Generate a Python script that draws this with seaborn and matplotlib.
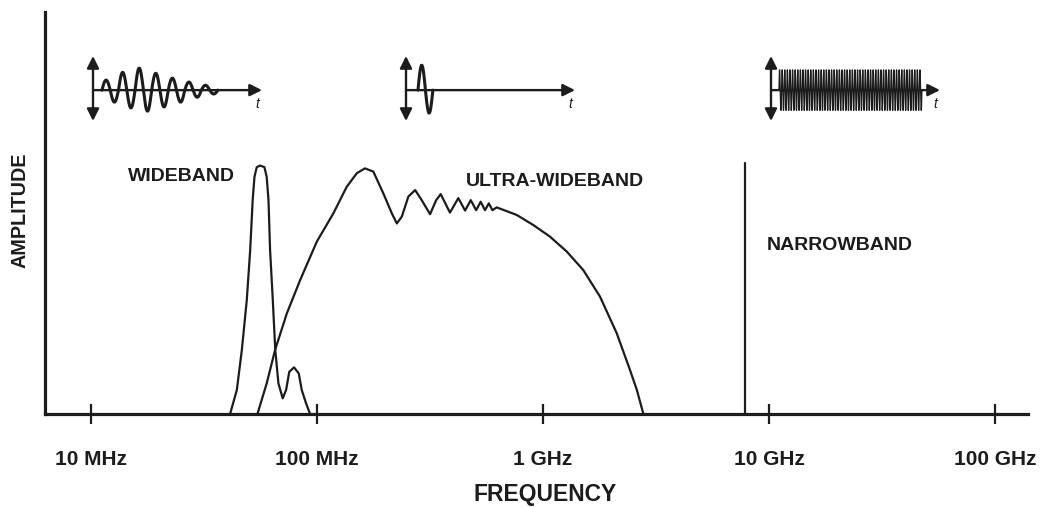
import numpy as np
import matplotlib
matplotlib.use("Agg")
import matplotlib.pyplot as plt
import seaborn as sns

# ---------------- data (x = log10 of frequency in Hz, y = relative amplitude) ----------------
wb_logf = [7.615, 7.645, 7.667, 7.689, 7.704, 7.715, 7.723, 7.733, 7.748, 7.767, 7.777, 7.785,
           7.792, 7.804, 7.815, 7.829, 7.848, 7.863, 7.877, 7.898, 7.919, 7.932, 7.951, 7.969]
wb_amp = [0.000, 0.060, 0.159, 0.284, 0.408, 0.532, 0.590, 0.614, 0.618, 0.614, 0.590, 0.532,
          0.408, 0.284, 0.159, 0.076, 0.039, 0.060, 0.105, 0.116, 0.101, 0.060, 0.027, 0.000]

uwb_logf = [7.736, 7.777, 7.814, 7.866, 7.925, 7.999, 8.072, 8.131, 8.176, 8.212, 8.249, 8.293,
            8.331, 8.353, 8.375, 8.404, 8.434, 8.463, 8.500, 8.527, 8.547, 8.588, 8.625, 8.655,
            8.680, 8.704, 8.724, 8.743, 8.760, 8.776, 8.795, 8.884, 8.957, 9.031, 9.105, 9.178,
            9.252, 9.326, 9.385, 9.415, 9.444]
uwb_amp = [0.000, 0.076, 0.159, 0.250, 0.333, 0.429, 0.499, 0.565, 0.599, 0.611, 0.603, 0.549,
           0.499, 0.474, 0.491, 0.541, 0.557, 0.532, 0.497, 0.532, 0.547, 0.501, 0.537, 0.506,
           0.532, 0.507, 0.528, 0.507, 0.524, 0.507, 0.514, 0.495, 0.470, 0.441, 0.404, 0.358,
           0.292, 0.201, 0.109, 0.060, 0.000]

nb_logf = [9.894, 9.894]
nb_amp = [0.000, 0.624]

tick_pos = [7, 8, 9, 10, 11]
tick_labels = ["10 MHz", "100 MHz", "1 GHz", "10 GHz", "100 GHz"]

band_labels = ["WIDEBAND", "ULTRA-WIDEBAND", "NARROWBAND"]
band_label_x = [7.400, 9.053, 10.314]
band_label_y = [0.592, 0.578, 0.418]

# time-domain icons: successive half-cycle extrema (relative amplitude)
wb_pulse_extrema = [0.31, -0.37, 0.55, -0.55, 0.68, -0.65, 0.52, -0.52, 0.37, -0.37,
                    0.25, -0.22, 0.15, -0.12]
uwb_pulse_extrema = [0.77, -0.71]
nb_carrier_amp = 0.63
nb_carrier_halfcycles = 110

# ---------------- style ----------------
sns.set_theme(style="white")
plt.rcParams["font.family"] = ["Liberation Sans", "DejaVu Sans"]
INK = "#1c1c1c"

W, H = 1044, 508
fig = plt.figure(figsize=(W / 100, H / 100), dpi=100)
fig.patch.set_facecolor("white")


def px_axes(left, right, top, bottom):
    return fig.add_axes([left / W, (H - bottom) / H, (right - left) / W, (bottom - top) / H])


ax = px_axes(45, 1028, 12, 414)
ax.set_facecolor("white")

sns.lineplot(x=wb_logf, y=wb_amp, ax=ax, color=INK, lw=1.6, sort=False, estimator=None)
sns.lineplot(x=uwb_logf, y=uwb_amp, ax=ax, color=INK, lw=1.6, sort=False, estimator=None)
sns.lineplot(x=nb_logf, y=nb_amp, ax=ax, color=INK, lw=1.6, sort=False, estimator=None)

ax.set_xlim(6.796, 11.146)
ax.set_ylim(0, 1)
ax.set_yticks([])
ax.set_xticks(tick_pos)
ax.set_xticklabels(tick_labels, fontsize=15, fontweight="bold", color=INK)
ax.tick_params(axis="x", bottom=True, direction="inout", length=14, width=1.6, color=INK, pad=19)

for side in ["top", "right"]:
    ax.spines[side].set_visible(False)
for side in ["left", "bottom"]:
    ax.spines[side].set_color(INK)
    ax.spines[side].set_linewidth(2.3)

ax.set_xlabel("FREQUENCY", fontsize=16.5, fontweight="bold", color=INK)
ax.xaxis.set_label_coords((545 - 45) / 983, (414 - 495) / 402)
ax.xaxis.label.set_va("center")
ax.set_ylabel("AMPLITUDE", fontsize=14.2, fontweight="bold", color=INK)
ax.yaxis.set_label_coords((20 - 45) / 983, (414 - 210) / 402)
ax.yaxis.label.set_va("center")

for lab, lx, ly in zip(band_labels, band_label_x, band_label_y):
    ax.text(lx, ly, lab, fontsize=14, fontweight="bold", color=INK, ha="center", va="center")


# ---------------- time-domain icons ----------------
def icon(left, right, top, bottom):
    a = px_axes(left, right, top, bottom)
    a.set_xlim(0, 1)
    a.set_ylim(-0.95, 1.05)
    a.axis("off")
    a.patch.set_alpha(0)
    a.annotate("", xy=(1, 0), xytext=(0, 0),
               arrowprops=dict(arrowstyle="-|>", color=INK, lw=1.7, mutation_scale=18,
                               shrinkA=0, shrinkB=0), annotation_clip=False)
    a.annotate("", xy=(0, 1.05), xytext=(0, -0.95),
               arrowprops=dict(arrowstyle="<|-|>", color=INK, lw=1.7, mutation_scale=18,
                               shrinkA=0, shrinkB=0), annotation_clip=False)
    a.text(0.97, -0.42, "t", fontsize=10, fontstyle="italic", color=INK, ha="center", va="center")
    return a


def half_cycles(a, start, half, extrema, lw):
    xs, ys = [], []
    for k, amp in enumerate(extrema):
        tt = np.linspace(0, 1, 12)
        xs.extend(start + (k + tt) * half)
        ys.extend(amp * np.sin(np.pi * tt))
    a.plot(xs, ys, color=INK, lw=lw, solid_joinstyle="round")


a1 = icon(93, 262, 56, 121)
half_cycles(a1, 0.053, 0.049, wb_pulse_extrema, 2.2)

a2 = icon(406, 575, 56, 121)
half_cycles(a2, 0.071, 0.044, uwb_pulse_extrema, 2.2)

a3 = icon(771, 940, 56, 121)
nb_half = (0.893 - 0.047) / nb_carrier_halfcycles
nb_ext = [nb_carrier_amp * (1 if k % 2 == 0 else -1) for k in range(nb_carrier_halfcycles)]
half_cycles(a3, 0.047, nb_half, nb_ext, 0.9)

fig.savefig("out.png", dpi=100, facecolor="white")
